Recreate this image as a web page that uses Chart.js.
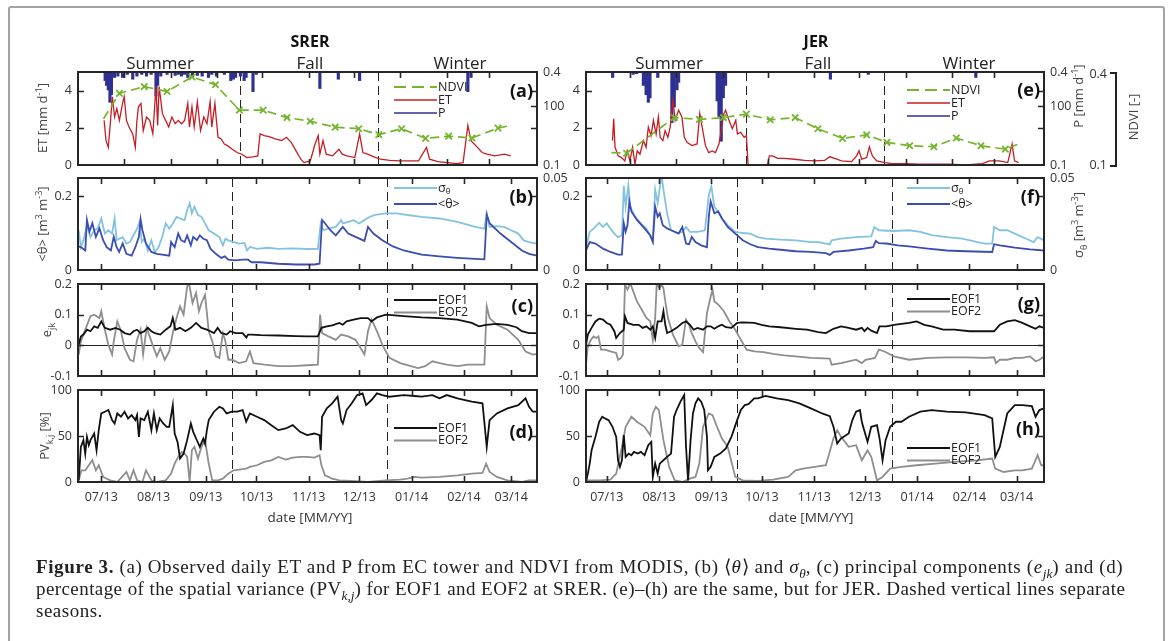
<!DOCTYPE html>
<html>
<head>
<meta charset="utf-8">
<script src="https://cdn.jsdelivr.net/npm/chart.js@4.4.0/dist/chart.umd.min.js"></script>
<style>
body { margin: 0; width: 1168px; height: 641px; overflow: hidden; position: relative; background: #fff; font-family: 'Open Sans', sans-serif; color: #222; }
canvas { position: absolute; left: 0; top: 0; }
#frame { position: absolute; left: 8px; top: 6px; width: 1153px; height: 700px; border: 2px solid #a3a3a3; border-radius: 3px; }
.t { position: absolute; white-space: nowrap; transform: translate(-50%, -50%); }
.v { position: absolute; white-space: nowrap; transform: translate(-50%, -50%) rotate(-90deg); font-size: 13px; color: #444; }
.v sup, .v sub { font-size: 70%; line-height: 0; }
.ttl { font-size: 16px; font-weight: bold; color: #111; }
.sea { font-size: 17px; color: #222; }
.dt { font-size: 13.5px; color: #333; }
#ndviAx { position: absolute; left: 1110px; top: 72px; width: 5px; height: 91px; border: 2px solid #222; border-left: none; }
.nl { position: absolute; font-size: 12.5px; color: #333; transform: translate(-100%, -50%); }
#cap { position: absolute; left: 36px; top: 556px; font-family: 'Liberation Serif', serif; font-size: 19px; letter-spacing: 0.5px; line-height: 22px; color: #222; white-space: nowrap; }
#cap sub { font-size: 70%; line-height: 0; letter-spacing: 0; }
#l1 { letter-spacing: 0.62px; }
#l2 { letter-spacing: 0.42px; }
</style>
</head>
<body>
<div id="frame"></div>
<canvas id="pa" width="1168" height="641"></canvas>
<canvas id="pb" width="1168" height="641"></canvas>
<canvas id="pc" width="1168" height="641"></canvas>
<canvas id="pd" width="1168" height="641"></canvas>
<canvas id="pe" width="1168" height="641"></canvas>
<canvas id="pf" width="1168" height="641"></canvas>
<canvas id="pg" width="1168" height="641"></canvas>
<canvas id="ph" width="1168" height="641"></canvas>

<div class="t ttl" style="left:310px;top:41px">SRER</div>
<div class="t ttl" style="left:816px;top:41px">JER</div>
<div class="t sea" style="left:160px;top:62px">Summer</div>
<div class="t sea" style="left:310px;top:62px">Fall</div>
<div class="t sea" style="left:460px;top:62px">Winter</div>
<div class="t sea" style="left:669px;top:62px">Summer</div>
<div class="t sea" style="left:818px;top:62px">Fall</div>
<div class="t sea" style="left:969px;top:62px">Winter</div>
<div class="t dt" style="left:310px;top:517px">date [MM/YY]</div>
<div class="t dt" style="left:811px;top:517px">date [MM/YY]</div>

<div class="v" style="left:42px;top:118px">ET [mm d<sup>-1</sup>]</div>
<div class="v" style="left:42px;top:224px">&lt;θ&gt; [m<sup>3</sup> m<sup>-3</sup>]</div>
<div class="v" style="left:46px;top:330px">e<sub>jk</sub></div>
<div class="v" style="left:44px;top:436px">PV<sub>k,j</sub> [%]</div>
<div class="v" style="left:1078px;top:96px">P [mm d<sup>-1</sup>]</div>
<div class="v" style="left:1078px;top:225px">σ<sub>θ</sub> [m<sup>3</sup> m<sup>-3</sup>]</div>
<div class="v" style="left:1133px;top:117px">NDVI [-]</div>
<div id="ndviAx"></div>
<div class="nl" style="left:1107px;top:73px">0.4</div>
<div class="nl" style="left:1107px;top:164px">0.1</div>

<div id="cap"><span id="l1"><b>Figure 3.</b> (a) Observed daily ET and P from EC tower and NDVI from MODIS, (b) ⟨<i>θ</i>⟩ and <i>σ<sub>θ</sub></i>, (c) principal components (<i>e<sub>jk</sub></i>) and (d)</span><br><span id="l2">percentage of the spatial variance (PV<sub><i>k,j</i></sub>) for EOF1 and EOF2 at SRER. (e)–(h) are the same, but for JER. Dashed vertical lines separate</span><br>seasons.</div>

<script>
// days counted from 1 June 2013
const monthDays = [30, 61, 92, 122, 153, 183, 214, 245, 273];
const monthLabels = ['07/13', '08/13', '09/13', '10/13', '11/13', '12/13', '01/14', '02/14', '03/14'];
const seasonBreaks = [107.3, 199.3];

// SRER
const srerET = [[16.6,2.4],[17.9,1.31],[19.4,0.95],[20.9,2.4],[22.1,3.67],[23.6,2.58],[25.1,3.04],[26.8,2.4],[28.9,3.31],[30,3.67],[31.5,2.4],[33.2,2.04],[35.7,1.67],[37.4,0.95],[38.5,2.4],[39.5,3.13],[41.2,3.31],[42.7,1.85],[44.9,2.58],[47,2.4],[49.1,1.67],[51.2,4.22],[52.3,2.13],[53.3,4.22],[55.5,2.76],[57.6,2.4],[59.7,2.04],[61.8,2.58],[64,2.22],[66.1,2.4],[68.2,2.22],[70.3,2.4],[72.4,3.31],[73.5,2.04],[75.2,3.13],[76.7,2.04],[78.8,3.4],[80.9,1.85],[83.1,2.58],[85.2,2.22],[87.3,3.4],[88.4,2.04],[90.5,3.31],[91.5,2.4],[92.6,1.49],[94.7,1.4],[96.8,1.13],[99,1.04],[102.1,0.85],[105.3,0.67],[108.5,0.58],[111.7,0.4],[115.9,0.44],[119.1,0.49],[120.6,1.67],[123.4,1.58],[126.6,1.53],[130.8,1.4],[135,1.31],[138.2,1.49],[141.4,1.22],[144.6,0.76],[147.8,0.31],[149.9,0.13],[154.1,0.22],[157.3,1.13],[159.4,1.58],[160.5,0.58],[162.6,1.31],[164.7,0.58],[169,0.49],[173.2,0.85],[175.4,0.58],[178.5,0.49],[183.8,0.4],[187,1.67],[189.2,0.67],[192.3,0.58],[196.6,0.44],[200.8,0.31],[207.2,0.25],[213.6,0.22],[219.9,0.22],[226.3,0.22],[231.6,0.95],[233.7,0.31],[239,0.18],[245.4,0.13],[251.7,0.07],[256,0.13],[259.2,2.13],[261.3,1.31],[264.5,1.04],[268.7,0.67],[271.9,0.58],[277.2,0.49],[283.6,0.58],[287.8,0.49]];
const srerP = [[17.3,25],[18.3,39],[19.4,52],[20.5,88],[21.5,66],[23.6,16],[25.8,12],[28.9,16],[32.1,7],[35.7,21],[38.5,12],[41.7,7],[44.9,12],[48,7],[51.2,70],[52.3,39],[54.4,12],[58.6,7],[64,10],[66.1,7],[68.2,12],[70.3,7],[72.4,16],[75.6,14],[78.8,10],[82,12],[86.2,16],[88.4,7],[91.5,12],[96.8,7],[101.1,25],[102.8,21],[104.3,16],[107.5,12],[110,25],[111.3,16],[115.9,57],[118.1,7],[160.5,48],[172.8,21],[187,25],[259.2,57],[261.3,16]];
const srerNDVI = [[16.2,0.249],[26.8,0.331],[43.4,0.353],[58.6,0.337],[75.2,0.384],[90.9,0.359],[106.8,0.277],[122.7,0.277],[138.6,0.253],[154.1,0.241],[170.7,0.222],[186.4,0.217],[199.8,0.198],[215,0.217],[231,0.186],[246.4,0.193],[261.9,0.187],[279.3,0.219],[288.3,0.228]];
const srerTheta = [[16.6,0.064],[18.3,0.061],[20.5,0.053],[21.5,0.136],[23,0.104],[24.7,0.127],[26.8,0.09],[28.9,0.113],[31.1,0.081],[33.2,0.062],[35.7,0.053],[37.4,0.09],[39.1,0.062],[40.6,0.049],[42.7,0.072],[44.9,0.044],[48,0.039],[50.2,0.062],[52.3,0.09],[53.3,0.138],[54.4,0.108],[56.5,0.072],[59.7,0.049],[62.9,0.044],[66.1,0.042],[70.3,0.039],[71.4,0.076],[73.5,0.062],[75.6,0.099],[77.3,0.081],[79.4,0.076],[80.9,0.094],[83.1,0.067],[84.5,0.09],[86.7,0.081],[88.4,0.094],[90.5,0.085],[92.6,0.081],[94.7,0.058],[97.9,0.044],[101.1,0.033],[103.2,0.037],[105.3,0.028],[109.6,0.026],[113.8,0.028],[117,0.028],[119.1,0.021],[124.4,0.021],[135,0.017],[145.6,0.015],[156.3,0.015],[159.4,0.017],[160.9,0.136],[162.6,0.127],[165.8,0.108],[169,0.094],[173.2,0.117],[176.4,0.099],[180.7,0.09],[186,0.079],[188.1,0.117],[191.3,0.099],[196.6,0.081],[202.9,0.064],[209.3,0.053],[219.9,0.042],[230.5,0.037],[241.1,0.033],[251.7,0.03],[257.1,0.029],[258.5,0.15],[260.2,0.127],[266.6,0.099],[273,0.076],[279.3,0.053],[283.6,0.044],[288.3,0.039]];
const srerSigma = [[16.6,0.0216],[17.9,0.0125],[19.4,0.0161],[21.5,0.0243],[23.6,0.0179],[25.8,0.0216],[27.9,0.0225],[30,0.028],[32.1,0.0198],[34.2,0.0216],[36.4,0.0198],[37.9,0.028],[39.1,0.0161],[40.6,0.017],[42.7,0.0179],[44.9,0.0143],[47,0.0152],[49.1,0.0189],[51.2,0.0225],[52.7,0.0262],[54,0.0152],[55.5,0.017],[57.6,0.0106],[59.7,0.0161],[61.8,0.0097],[64,0.0125],[66.1,0.0179],[68.2,0.0253],[70.3,0.0225],[72.4,0.0253],[74.6,0.0289],[76.7,0.028],[79.4,0.0271],[80.9,0.0326],[82.4,0.0363],[83.7,0.0308],[85.2,0.0344],[87.3,0.0299],[89.4,0.0289],[91.5,0.0253],[93.7,0.0216],[96.8,0.0198],[100,0.0179],[102.1,0.0134],[103.6,0.017],[105.3,0.0161],[108.5,0.0152],[111.7,0.0143],[114.9,0.0147],[116.4,0.0106],[118.1,0.0125],[122.3,0.0115],[128.7,0.0121],[135,0.0115],[143.5,0.0117],[152,0.0114],[158.4,0.0115],[160.1,0.0253],[161.6,0.0216],[164.7,0.0225],[169,0.0234],[172.2,0.0271],[173.2,0.0253],[176.4,0.0262],[179.6,0.0271],[182.8,0.0253],[186,0.0271],[189.2,0.0289],[192.3,0.0299],[195.5,0.0304],[198.7,0.0308],[205.1,0.0308],[211.4,0.0299],[219.9,0.0289],[230.5,0.028],[241.1,0.0262],[251.7,0.0234],[257.1,0.0225],[258.5,0.0308],[260.2,0.0234],[264.5,0.0238],[268.7,0.0234],[273,0.0216],[277.2,0.0198],[280.4,0.0161],[283.6,0.0152],[288.3,0.0143]];
const srerEOF1 = [[16.6,0.002],[17.9,0.029],[19.4,0.035],[21.5,0.051],[23.6,0.046],[25.8,0.062],[27.9,0.057],[30,0.078],[32.1,0.057],[35.3,0.051],[38.5,0.057],[41.2,0.051],[43.8,0.04],[47,0.035],[49.1,0.046],[51.2,0.051],[53.3,0.04],[55.5,0.046],[57.6,0.057],[59.7,0.046],[61.8,0.04],[65,0.035],[68.2,0.051],[71,0.062],[72.4,0.089],[73.9,0.051],[76.7,0.057],[79.9,0.046],[83.1,0.057],[86.2,0.073],[89.4,0.057],[92.6,0.051],[94.7,0.046],[96.8,0.04],[99,0.057],[101.1,0.04],[104.3,0.035],[106.4,0.046],[109.6,0.04],[113.8,0.04],[116,0.026],[117,0.035],[119.1,0.035],[124.4,0.033],[135,0.032],[145.6,0.03],[152,0.029],[158.4,0.029],[160.5,0.057],[163.7,0.062],[166.9,0.065],[171.1,0.073],[173.2,0.067],[175.4,0.078],[179.6,0.084],[183.8,0.089],[188.1,0.089],[190.2,0.078],[193.4,0.091],[198.7,0.1],[209.3,0.095],[219.9,0.091],[230.5,0.089],[241.1,0.084],[249.6,0.073],[253.9,0.062],[258.1,0.067],[264.5,0.07],[270.8,0.067],[276.1,0.059],[279.3,0.046],[283.6,0.04],[288.3,0.04]];
const srerEOF2 = [[16.6,-0.03],[17.9,0.013],[20.5,0.051],[23.6,0.095],[25.8,0.1],[28.9,0.089],[30,0.111],[32.1,0.051],[34.2,0.002],[36.4,-0.03],[37.4,0.013],[39.5,0.078],[41.7,0.046],[43.8,-0.009],[47,-0.047],[49.1,-0.052],[51.2,0.018],[53.3,0.051],[54.8,-0.03],[56.9,0.057],[59.7,0.013],[62.9,-0.036],[65,-0.009],[67.6,-0.047],[70.3,-0.02],[72.4,0.04],[74.6,0.089],[76.7,0.127],[78.8,0.1],[80.9,0.192],[82,0.203],[84.1,0.138],[86.2,0.171],[87.9,0.111],[89.4,0.138],[91.5,0.165],[93.7,0.046],[95.8,0.013],[97.9,-0.036],[100,-0.041],[102.1,0.04],[103.6,0.013],[105.3,-0.047],[107.5,-0.047],[111.7,-0.058],[115.9,-0.052],[118.1,-0.02],[120.2,-0.058],[126.6,-0.063],[135,-0.068],[143.5,-0.068],[152,-0.065],[158.4,-0.063],[159.7,0.1],[160.9,0.04],[164.7,0.029],[169,0.018],[172.2,0.035],[176.4,0.029],[180.7,0.018],[186,-0.03],[188.1,0.046],[190.2,0.084],[193.4,0.046],[196.6,0.002],[200.8,-0.041],[207.2,-0.058],[213.6,-0.068],[217.8,-0.074],[222,-0.068],[226.3,-0.052],[230.5,-0.058],[234.8,-0.063],[241.1,-0.068],[247.5,-0.063],[253.9,-0.063],[257.1,-0.063],[258.5,0.127],[260.2,0.089],[264.5,0.067],[270.8,0.051],[277.2,0.018],[281.5,-0.02],[285.8,-0.03],[288.3,-0.028]];
const srerPV1 = [[16.6,1.8],[17.9,38.2],[19.4,45.5],[20.5,30.9],[21.5,49.1],[22.6,40],[23.6,45.5],[25.8,52.7],[27.2,34.5],[28.5,56.4],[30,74.5],[32.1,76.4],[34.2,78.2],[36.4,67.3],[37.9,63.6],[39.5,74.5],[41.7,70.9],[43.8,76.4],[45.9,69.1],[48,72.7],[50.2,67.3],[51.2,72.7],[52.3,49.1],[53.3,69.1],[55.5,67.3],[57.6,76.4],[59.7,56.4],[61.2,74.5],[62.9,56.4],[64.6,69.1],[66.7,63.6],[68.8,60],[70.3,60],[72.4,83.6],[73.5,52.7],[75.2,43.6],[76.7,25.5],[78.8,30.9],[80.9,45.5],[83.1,63.6],[84.5,54.5],[86.2,47.3],[88.4,38.2],[90.5,47.3],[91.5,41.8],[92.6,56.4],[93.7,67.3],[96.8,76.4],[100,81.8],[102.1,80],[104.3,74.5],[107.5,76.4],[110.6,76.4],[113.8,78.2],[115.9,65.5],[118.1,74.5],[122.3,70.9],[126.6,67.3],[130.8,61.8],[135,56.4],[139.3,58.2],[143.5,61.8],[147.8,54.5],[152,50.9],[156.3,52.7],[159.4,50.9],[160.1,34.5],[160.9,70.9],[163.7,80],[166.9,85.5],[170.1,92.7],[172.2,67.3],[173.2,63.6],[175.4,78.2],[178.5,85.5],[181.7,94.5],[184.9,96.4],[187,83.6],[190.2,89.1],[193.4,96.4],[196.6,94.5],[200.8,92.7],[209.3,94.5],[215.7,93.5],[219.9,92.7],[226.3,94.5],[230.5,90.9],[234.8,94.5],[241.1,90.9],[249.6,87.3],[256,85.5],[258.5,38.2],[260.2,67.3],[264.5,74.5],[270.8,80],[277.2,83.6],[281.5,90.9],[283.6,81.8],[285.8,76.4],[288.3,76.4]];
const srerPV2 = [[16.6,1.8],[18.3,12.7],[20.5,12.7],[22.6,18.2],[24.7,23.6],[26.8,12.7],[28.5,18.2],[31.1,5.5],[35.3,1.8],[39.5,0],[44.9,10.9],[47,1.8],[49.1,12.7],[51.2,1.8],[54.4,0],[56.5,12.7],[59.7,1.8],[62.9,0],[68.2,1.8],[71.4,9.1],[73.5,20],[75.6,27.3],[77.7,32.7],[79.4,30.9],[80.9,27.3],[82.4,0],[83.7,34.5],[85.2,38.2],[87.3,25.5],[89.4,38.2],[91.5,45.5],[93.7,20],[95.8,1.8],[99,1.8],[102.1,3.6],[105.3,9.1],[108.5,12.7],[111.7,13.5],[115.9,14.5],[118.1,16.4],[122.3,18.2],[126.6,21.8],[130.8,23.6],[135,27.3],[139.3,24.4],[143.5,26.5],[147.8,27.3],[152,27.3],[156.3,26.5],[159.4,29.1],[160.5,18.2],[162.6,7.3],[166.9,3.6],[171.1,1.8],[177.5,1.1],[188.1,0],[198.7,1.8],[207.2,2.5],[211.4,3.6],[215.7,5.5],[219.9,4.7],[230.5,5.5],[241.1,7.3],[249.6,9.1],[256,9.8],[258.1,20],[260.2,10.9],[264.5,5.5],[270.8,1.8],[279.3,0],[283.6,1.8],[288.3,1.8]];

// JER
const jerET = [[18.4,1.31],[19.2,2.49],[20.1,0.95],[22.2,0.49],[24.4,0.4],[26.6,0.22],[28.2,0.76],[30,0.22],[31.8,0.95],[33.4,0.04],[34.9,0.76],[36.7,0.58],[39,1.31],[40.8,0.95],[42.3,2.04],[44.1,1.58],[45.7,2.4],[47.5,1.67],[49,2.58],[50.2,1.49],[52,1.31],[53.5,1.85],[55.3,1.49],[56.9,2.04],[58.7,3.49],[60.2,2.4],[62.5,2.95],[64.7,2.58],[66.3,1.49],[68.1,1.22],[71.4,1.04],[74.8,1.13],[76.6,2.76],[78.2,2.04],[80.4,1.04],[82.6,0.67],[84.9,0.76],[87.1,0.67],[89.4,1.13],[91.6,2.22],[92.7,2.76],[93.8,2.95],[96.1,2.4],[98.3,1.95],[100.6,2.4],[101.7,1.67],[103.9,1.76],[106.2,1.49],[107.7,1.58],[108.8,0.04],[110.6,0],[121.8,0],[123,0.49],[125.2,0.49],[128.6,0.36],[133,0.36],[139.8,0.31],[146.5,0.25],[153.2,0.22],[159.9,0.25],[163.3,0.44],[166.6,0.36],[171.1,0.22],[177.8,0.18],[181.2,0.49],[182.8,0.76],[184.6,0.31],[187.9,0.4],[189.7,0.98],[191.7,0.49],[194.6,0.22],[200.2,0.13],[204.7,0.07],[213.7,0.07],[222.6,0.04],[231.6,0.04],[242.8,0.04],[254,0],[265.2,0.07],[269.7,0.22],[276.4,0.22],[282,0.13],[284.9,1.13],[286.5,0.22],[289.2,0.13]];
const jerP = [[18.5,16],[32.2,7],[34.5,5],[39,39],[40.8,66],[42.3,88],[43.4,75],[48.6,16],[58,147],[59.6,102],[61.4,52],[62.5,30],[88.2,84],[89.4,129],[90.9,201],[92.3,75],[93.8,39],[163.7,21],[189,7],[260.7,16]];
const jerNDVI = [[17.7,0.14],[27.8,0.138],[59.6,0.253],[76.4,0.247],[92.3,0.253],[107.7,0.264],[123.6,0.246],[140.2,0.253],[155.4,0.217],[171.8,0.186],[187.9,0.197],[201.4,0.173],[216.6,0.162],[232.7,0.159],[247.7,0.187],[264.1,0.162],[280.4,0.151],[289.2,0.168]];
const jerTheta = [[17.7,0.053],[19.9,0.076],[23.3,0.072],[27.8,0.058],[32.2,0.049],[36.7,0.042],[39,0.042],[40.1,0.127],[41.2,0.104],[42.3,0.122],[43.4,0.186],[44.6,0.159],[47.9,0.136],[52.4,0.113],[55.8,0.094],[57.3,0.076],[58.7,0.172],[60.2,0.145],[61.4,0.154],[63.2,0.122],[65.8,0.113],[68.1,0.108],[70.3,0.104],[72.6,0.099],[74.8,0.117],[77,0.072],[78.8,0.07],[80.4,0.09],[82.6,0.076],[86,0.067],[89.4,0.062],[90.5,0.145],[91.6,0.186],[93.8,0.154],[96.1,0.159],[98.3,0.14],[101.7,0.117],[106.2,0.099],[110.6,0.081],[115.1,0.07],[119.6,0.062],[126.3,0.058],[133,0.055],[142,0.051],[151,0.049],[159.9,0.046],[162.2,0.041],[164.4,0.049],[173.4,0.053],[182.3,0.058],[187.9,0.062],[189.5,0.079],[191.3,0.073],[195.8,0.072],[202.5,0.067],[209.2,0.064],[220.4,0.058],[231.6,0.053],[242.8,0.051],[258.5,0.049],[259.6,0.07],[263,0.067],[271.9,0.061],[280.9,0.056],[289.2,0.053]];
const jerSigma = [[17.7,0.0125],[19.9,0.0207],[22.2,0.0225],[25.5,0.0256],[27.8,0.0234],[30,0.0253],[32.2,0.0225],[34.5,0.0198],[36.7,0.0179],[39,0.0189],[40.1,0.0458],[41.2,0.0344],[42.8,0.0463],[43.9,0.0344],[46.8,0.0289],[50.2,0.0253],[53.5,0.0225],[57.3,0.0161],[58.7,0.0436],[60.2,0.0363],[62.5,0.0518],[63.6,0.0436],[65.8,0.0308],[68.1,0.0216],[71.4,0.0201],[74.8,0.0207],[77,0.0234],[79.3,0.0207],[83.8,0.0207],[88.2,0.0216],[90.5,0.0408],[92,0.0454],[93.8,0.0344],[96.1,0.0317],[98.3,0.028],[101.7,0.0244],[106.2,0.0207],[110.6,0.0201],[115.1,0.0198],[119.6,0.0179],[124.1,0.017],[133,0.0165],[142,0.0161],[151,0.0152],[155.4,0.0152],[162.2,0.0139],[163.3,0.0161],[168.9,0.017],[177.8,0.0179],[186.8,0.0183],[188.6,0.0234],[191.3,0.0216],[200.2,0.0212],[209.2,0.0216],[215.9,0.0207],[222.6,0.0189],[231.6,0.0179],[240.6,0.017],[254,0.0143],[258.5,0.0143],[259.6,0.0234],[263,0.0216],[267.4,0.0216],[271.9,0.0198],[278.6,0.017],[283.1,0.0152],[285.4,0.0179],[289.2,0.0161]];
const jerEOF1 = [[17.7,0.002],[18.8,0.035],[21,0.057],[23.3,0.078],[25.5,0.087],[27.8,0.084],[30,0.073],[32.2,0.067],[34.5,0.046],[35.6,0.024],[37.8,0.04],[40.1,0.051],[40.8,0.095],[42.3,0.073],[45.7,0.067],[49,0.067],[51.3,0.057],[53.5,0.062],[55.8,0.051],[57.3,0.062],[58.7,0.024],[60.2,0.078],[62.5,0.078],[63.6,0.111],[64.7,0.067],[65.8,0.04],[68.1,0.046],[71.4,0.057],[74.8,0.073],[77,0.078],[79.3,0.067],[81.5,0.051],[83.8,0.057],[87.1,0.051],[89.4,0.062],[91.6,0.062],[93.8,0.054],[96.1,0.062],[98.3,0.067],[100.6,0.059],[103.9,0.057],[107.3,0.073],[110.6,0.075],[117.4,0.073],[121.8,0.067],[126.3,0.062],[133,0.059],[142,0.054],[148.7,0.051],[155.4,0.043],[159.9,0.04],[164.4,0.054],[168.9,0.062],[173.4,0.057],[177.8,0.051],[181.2,0.057],[182.8,0.046],[184.6,0.057],[186.8,0.048],[190.2,0.04],[191.7,0.062],[195.8,0.062],[200.2,0.067],[209.2,0.073],[213.7,0.078],[218.2,0.067],[222.6,0.062],[229.4,0.051],[236.1,0.051],[245,0.046],[254,0.046],[259.6,0.046],[263,0.067],[267.4,0.078],[271.9,0.082],[276.4,0.073],[280.9,0.062],[284.2,0.054],[286.5,0.062],[289.2,0.057]];
const jerEOF2 = [[17.7,-0.063],[18.8,-0.003],[20.6,0.018],[22.2,0.029],[23.7,0.024],[25.1,0.029],[26.6,-0.014],[28.9,-0.014],[32.2,-0.02],[35.6,-0.025],[36.7,-0.047],[38.5,-0.041],[39.6,-0.03],[40.8,0.198],[42.3,0.182],[43.9,0.203],[45.7,0.176],[47.9,0.143],[51.3,0.111],[53.5,0.089],[55.8,0.078],[57.3,0.018],[58.7,0.089],[59.6,0.198],[61.4,0.187],[62.5,0.198],[63.6,0.187],[64.7,0.143],[66.3,0.089],[69.2,0.035],[72.6,-0.003],[74.8,0.002],[77,0.084],[78.8,0.067],[80.4,0.04],[82.6,0.013],[84.9,-0.009],[87.1,-0.022],[89.4,0.105],[90.9,0.143],[92.7,0.182],[93.8,0.143],[96.1,0.133],[99.4,0.111],[102.8,0.078],[106.2,0.051],[109.5,0.018],[112.9,-0.014],[117.4,-0.02],[123,-0.022],[128.6,-0.028],[135.3,-0.033],[142,-0.036],[151,-0.041],[162.2,-0.043],[163.3,-0.063],[168.9,-0.058],[177.8,-0.047],[181.2,-0.058],[183.4,-0.047],[189,-0.041],[191.3,-0.014],[194.6,-0.02],[200.2,-0.036],[209.2,-0.047],[220.4,-0.041],[231.6,-0.039],[242.8,-0.039],[254,-0.041],[259.6,-0.039],[260.7,-0.058],[263,-0.047],[267.4,-0.047],[271.9,-0.041],[276.4,-0.041],[280.9,-0.036],[284.2,-0.052],[286.5,-0.047],[289.2,-0.036]];
const jerPV1 = [[17.7,0],[18.8,9.1],[19.9,20],[21,34.5],[23.3,49.1],[25.5,65.5],[27.3,70.9],[28.9,69.1],[31.1,67.3],[33.4,60],[35.6,49.1],[36.7,23.6],[37.8,16.4],[39,23.6],[40.1,50.9],[41.2,27.3],[43,30.9],[44.6,29.1],[46.1,32.7],[48.4,30.9],[50.2,32.7],[52.4,29.1],[54.6,40],[56.4,43.6],[57.3,5.5],[58.7,20],[60.2,9.1],[61.4,20],[63.6,23.6],[65.8,27.3],[68.1,30.9],[69.9,70.9],[71.4,78.2],[73.7,87.3],[75.9,94.5],[77,38.2],[78.2,1.8],[79.7,45.5],[81.1,74.5],[82.6,85.5],[84.2,90.9],[86,87.3],[87.8,78.2],[89.4,49.1],[90,12.7],[91.6,16.4],[93.8,27.3],[97.2,30.9],[100.6,36.4],[103.9,49.1],[107.3,67.3],[109.5,78.2],[111.8,83.6],[114,84.7],[117.4,90.9],[119.6,90.9],[124.1,93.5],[130.8,90.9],[137.5,89.1],[144.2,85.5],[151,80],[157.7,74.5],[162.2,71.6],[164.4,60],[166.6,41.8],[168.9,47.3],[173.4,52.7],[175.6,67.3],[177.8,76.4],[180.1,78.2],[181.2,65.5],[182.3,58.2],[184.6,43.6],[186.8,60],[190.2,61.8],[191.7,47.3],[193.5,23.6],[195.3,45.5],[198,60],[201.4,65.5],[204.7,65.5],[209.2,70.9],[215.9,76.4],[222.6,78.2],[231.6,76.4],[242.8,75.6],[254,72.7],[258.5,69.1],[260.3,27.3],[263,38.2],[267.4,74.5],[271.9,83.6],[276.4,83.6],[282,82.5],[284.2,70.9],[286.5,78.2],[289.2,80]];
const jerPV2 = [[17.7,1.8],[25.5,1.8],[32.2,2.5],[35.6,9.1],[39,38.2],[41.2,60],[44.6,70.9],[47.9,65.5],[52.4,60],[55.8,50.9],[57.3,74.5],[59.1,81.8],[60.9,78.2],[63.6,45.5],[67,16.4],[70.3,1.8],[74.8,0],[79.3,3.6],[82.6,5.5],[84.9,20],[87.1,60],[90.5,74.5],[92.7,72.7],[95.4,60],[98.3,47.3],[101.7,38.2],[106.2,5.5],[110.6,1.8],[119.6,1.1],[128.6,2.5],[137.5,5.5],[142,12.7],[146.5,14.5],[153.2,16.4],[159.9,18.2],[164.4,47.3],[166.6,56.4],[168.9,49.1],[173.4,38.2],[177.8,40],[181.2,23.6],[184.6,34.5],[186.8,27.3],[190.2,1.8],[193.5,5.5],[198,14.5],[204.7,16.4],[213.7,18.2],[224.9,20],[236.1,21.8],[249.5,23.6],[258.5,25.5],[260.3,14.5],[265.2,10.9],[271.9,12.7],[276.4,12.7],[282,14.5],[285.4,29.1],[287.6,18.2],[289.2,18.2]];

const C = { et: '#c41e24', p: '#2e3192', ndvi: '#74b52d', theta: '#3b4db1', sigma: '#84c3df', eof1: '#111111', eof2: '#8e8e8e' };
const colL = [78, 537], colR = [586, 1044];
const rows = [[72, 165], [178, 270], [284, 376], [390, 482]];
const xL = [16.2, 288.3], xR = [17.7, 289.2];
const AW = 46, XH = 32;   // room kept for tick labels

Chart.defaults.font.family = "'Open Sans', sans-serif";
Chart.defaults.color = '#333';

const mctx = document.createElement('canvas').getContext('2d');
mctx.font = "12.5px 'Open Sans', sans-serif";
const w100 = mctx.measureText('100').width;

const xy = a => a.map(p => ({ x: p[0], y: p[1] }));

function line(data, color, width, axis, extra) {
  return Object.assign({ type: 'line', data: xy(data), borderColor: color, backgroundColor: color, borderWidth: width, pointRadius: 0, tension: 0, fill: false, yAxisID: axis }, extra || {});
}

function ndviSet(data) {
  const n = data.length;
  return line(data, C.ndvi, 1.7, 'ndvi', {
    order: 0, borderDash: [9, 5], pointStyle: 'crossRot', pointBorderWidth: 1.8,
    pointRadius: c => (c.dataIndex === 0 || c.dataIndex === n - 1) ? 0 : 4.5
  });
}

function xAxis(range, labels) {
  return {
    type: 'linear', min: range[0], max: range[1],
    afterFit: s => { s.height = XH; },
    afterBuildTicks: s => { s.ticks = monthDays.map(v => ({ value: v })); },
    grid: { display: false, drawTicks: false }, border: { display: false },
    ticks: { display: labels, padding: 8, autoSkip: false, maxRotation: 0, font: { size: 12.5 }, color: '#333',
      callback: v => monthLabels[monthDays.indexOf(v)] }
  };
}

function yAxis(min, max, ticks, fmt, position, opts) {
  opts = opts || {};
  return {
    type: 'linear', position, min, max, reverse: !!opts.reverse, weight: opts.weight || 0,
    afterFit: s => { s.width = opts.width === undefined ? AW : opts.width; },
    afterBuildTicks: s => { s.ticks = ticks.map(v => ({ value: v })); },
    grid: { display: false, drawTicks: false }, border: { display: false },
    ticks: { display: true, padding: opts.padding || 6, mirror: !!opts.mirror, crossAlign: opts.crossAlign || 'near',
      autoSkip: false, font: { size: 12.5 }, color: '#333', callback: v => fmt(v) }
  };
}

const fmt1 = v => v === 0 ? '0' : v.toFixed(1);

const figPlugin = {
  id: 'fig',
  beforeDatasetsDraw(chart, args, o) {
    const { ctx, chartArea: a, scales } = chart;
    ctx.save();
    ctx.strokeStyle = '#222';
    ctx.lineWidth = 1;
    ctx.setLineDash([9, 5]);
    seasonBreaks.forEach(d => {
      const x = Math.round(scales.x.getPixelForValue(d)) + 0.5;
      ctx.beginPath(); ctx.moveTo(x, a.top); ctx.lineTo(x, a.bottom); ctx.stroke();
    });
    ctx.setLineDash([]);
    if (o.zero) {
      const y = Math.round(scales.y.getPixelForValue(0)) + 0.5;
      ctx.beginPath(); ctx.moveTo(a.left, y); ctx.lineTo(a.right, y); ctx.stroke();
    }
    ctx.restore();
  },
  afterDatasetsDraw(chart, args, o) {
    const { ctx, chartArea: a, scales } = chart;
    ctx.save();
    ctx.strokeStyle = '#262626';
    ctx.lineWidth = 1.6;
    const tl = 6;
    ctx.beginPath();
    monthDays.forEach(d => {
      const x = Math.round(scales.x.getPixelForValue(d)) + 0.5;
      ctx.moveTo(x, a.bottom); ctx.lineTo(x, a.bottom - tl);
      ctx.moveTo(x, a.top); ctx.lineTo(x, a.top + tl);
    });
    (o.yTicks || []).forEach(v => {
      const y = Math.round(scales.y.getPixelForValue(v)) + 0.5;
      ctx.moveTo(a.left, y); ctx.lineTo(a.left + tl, y);
      ctx.moveTo(a.right, y); ctx.lineTo(a.right - tl, y);
    });
    (o.y2Ticks || []).forEach(t => {
      const y = Math.round(scales[t[0]].getPixelForValue(t[1])) + 0.5;
      ctx.moveTo(a.right, y); ctx.lineTo(a.right - tl, y);
    });
    ctx.stroke();
    ctx.lineWidth = 2;
    ctx.strokeRect(a.left, a.top, a.right - a.left, a.bottom - a.top);

    const lg = o.legend;
    if (lg) {
      const x0 = a.right - lg.dx, x1 = x0 + 43;
      lg.items.forEach((it, i) => {
        const y = a.top + lg.top + i * lg.gap;
        ctx.strokeStyle = it.color;
        ctx.lineWidth = it.w || 1.8;
        ctx.setLineDash(it.dash || []);
        ctx.beginPath(); ctx.moveTo(x0, y); ctx.lineTo(x1, y); ctx.stroke();
        ctx.setLineDash([]);
        ctx.fillStyle = '#222';
        ctx.textBaseline = 'middle';
        ctx.textAlign = 'left';
        ctx.font = "12.5px 'Open Sans', sans-serif";
        ctx.fillText(it.text, x1 + 1, y);
        if (it.sub) {
          const w = ctx.measureText(it.text).width;
          ctx.font = "8px 'Open Sans', sans-serif";
          ctx.fillText(it.sub, x1 + 1 + w, y + 4);
        }
      });
    }
    ctx.fillStyle = '#111';
    ctx.font = "bold 18px 'Open Sans', sans-serif";
    ctx.textAlign = 'right';
    ctx.textBaseline = 'middle';
    ctx.fillText(o.letter, a.right - 4, a.top + o.letterY);
    ctx.restore();
  }
};

function panel(id, col, row, xr, datasets, scales, fig, hasRight) {
  const box = { l: col[0], r: col[1], t: rows[row][0], b: rows[row][1] };
  new Chart(document.getElementById(id), {
    type: 'line',
    data: { datasets },
    options: {
      responsive: false, animation: false, devicePixelRatio: 1,
      layout: { padding: { left: box.l - AW, right: 1168 - box.r - (hasRight ? AW : 0), top: box.t, bottom: 641 - box.b - XH } },
      scales: Object.assign({ x: xAxis(xr, row === 3) }, scales),
      plugins: { legend: { display: false }, tooltip: { enabled: false }, fig }
    },
    plugins: [figPlugin]
  });
}

function etPanel(id, col, xr, et, p, ndvi, letter, lgTop, lgDx, letY) {
  panel(id, col, 0, xr, [
    ndviSet(ndvi),
    line(et, C.et, 1.3, 'y', { order: 1 }),
    { type: 'bar', data: xy(p), backgroundColor: C.p, borderWidth: 0, barThickness: 2.5, yAxisID: 'p', order: 2 }
  ], {
    y: yAxis(0, 5, [0, 2, 4], v => String(v), 'left'),
    p: yAxis(0, 270, [100], v => String(v), 'right', { reverse: true, weight: 0, width: 0, mirror: true, crossAlign: 'far', padding: 6 + w100 }),
    ndvi: yAxis(0.1, 0.4, [0.1, 0.4], v => v.toFixed(1), 'right', { weight: 1 })
  }, {
    yTicks: [2, 4], y2Ticks: [['p', 100]], letter, letterY: letY,
    legend: { dx: lgDx, top: lgTop, gap: 13, items: [
      { text: 'NDVI', color: C.ndvi, dash: [12, 6] }, { text: 'ET', color: C.et, w: 1.5 }, { text: 'P', color: C.p, w: 1.5 }] }
  }, true);
}

function thetaPanel(id, col, xr, th, sg, letter, lgTop, lgDx) {
  panel(id, col, 1, xr, [
    line(sg, C.sigma, 1.8, 's', { order: 1 }),
    line(th, C.theta, 1.8, 'y', { order: 0 })
  ], {
    y: yAxis(0, 0.25, [0, 0.2], fmt1, 'left'),
    s: yAxis(0, 0.05, [0, 0.05], v => v === 0 ? '0' : '0.05', 'right')
  }, {
    yTicks: [0.2], letter, letterY: 20,
    legend: { dx: lgDx, top: lgTop, gap: 16, items: [
      { text: 'σ', sub: 'θ', color: C.sigma, w: 2 }, { text: '<θ>', color: C.theta, w: 2 }] }
  }, true);
}

function eofPanel(id, col, xr, e1, e2, letter, letY, lgTop, lgDx) {
  panel(id, col, 2, xr, [
    line(e1, C.eof1, 1.8, 'y', { order: 0 }),
    line(e2, C.eof2, 1.8, 'y', { order: 1 })
  ], {
    y: yAxis(-0.1, 0.2, [-0.1, 0, 0.1, 0.2], fmt1, 'left')
  }, {
    yTicks: [0, 0.1], zero: true, letter, letterY: letY,
    legend: { dx: lgDx, top: lgTop, gap: 12.5, items: [
      { text: 'EOF1', color: C.eof1, w: 2 }, { text: 'EOF2', color: C.eof2, w: 2 }] }
  }, false);
}

function pvPanel(id, col, xr, p1, p2, letter, letY, lgTop, lgDx) {
  panel(id, col, 3, xr, [
    line(p1, C.eof1, 1.8, 'y', { order: 0 }),
    line(p2, C.eof2, 1.8, 'y', { order: 1 })
  ], {
    y: yAxis(0, 100, [0, 50, 100], v => String(v), 'left')
  }, {
    yTicks: [50], letter, letterY: letY,
    legend: { dx: lgDx, top: lgTop, gap: 12.5, items: [
      { text: 'EOF1', color: C.eof1, w: 2 }, { text: 'EOF2', color: C.eof2, w: 2 }] }
  }, false);
}

etPanel('pa', colL, xL, srerET, srerP, srerNDVI, '(a)', 15, 143, 20);
thetaPanel('pb', colL, xL, srerTheta, srerSigma, '(b)', 10, 143);
eofPanel('pc', colL, xL, srerEOF1, srerEOF2, '(c)', 23, 16, 143);
pvPanel('pd', colL, xL, srerPV1, srerPV2, '(d)', 43, 38, 143);

etPanel('pe', colR, xR, jerET, jerP, jerNDVI, '(e)', 18, 137, 19);
thetaPanel('pf', colR, xR, jerTheta, jerSigma, '(f)', 10, 137);
eofPanel('pg', colR, xR, jerEOF1, jerEOF2, '(g)', 21, 15, 137);
pvPanel('ph', colR, xR, jerPV1, jerPV2, '(h)', 40, 58, 137);
</script>
</body>
</html>
